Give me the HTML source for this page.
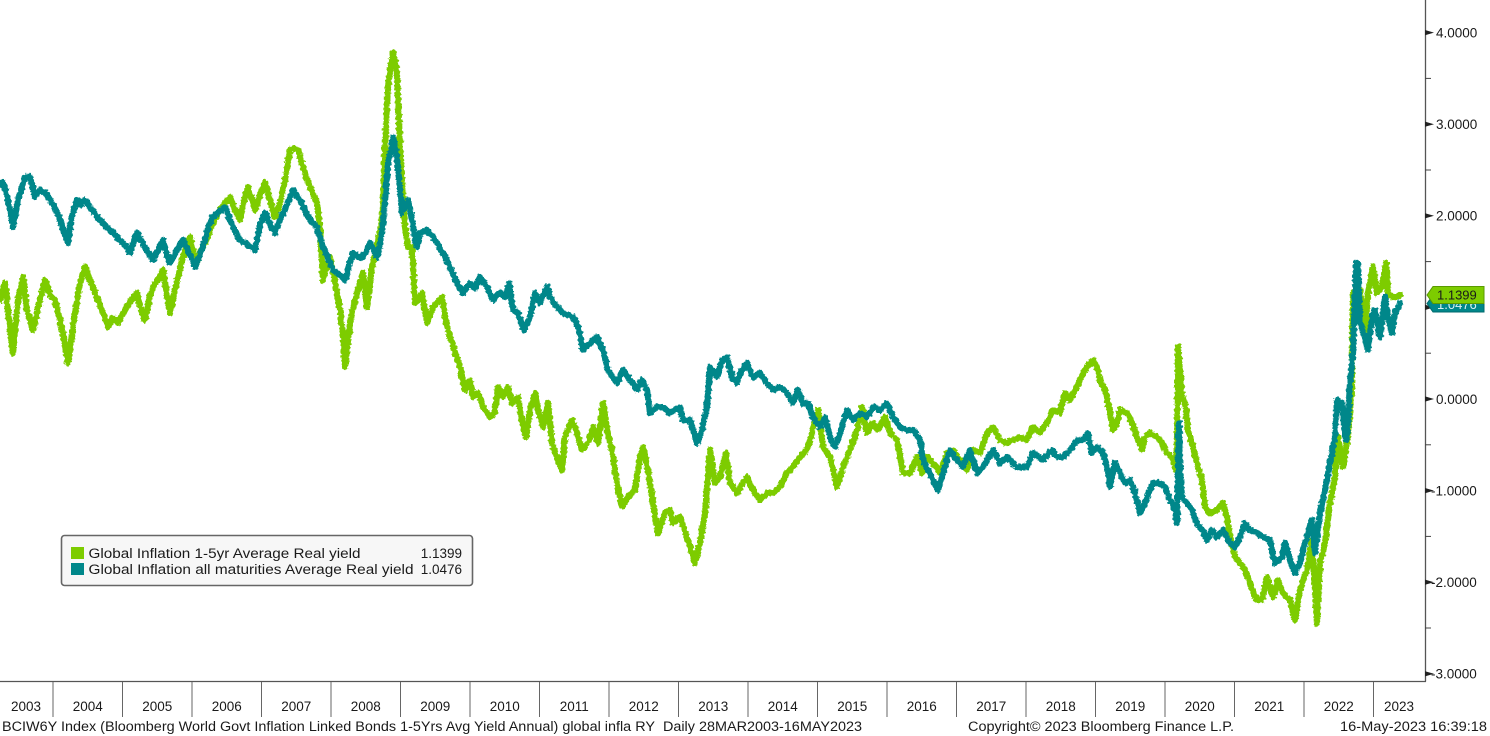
<!DOCTYPE html>
<html>
<head>
<meta charset="utf-8">
<style>
  html, body { margin: 0; padding: 0; background: #ffffff; }
  svg { display: block; }
  text { font-family: "Liberation Sans", "DejaVu Sans", sans-serif; fill: #1a1a1a; }
</style>
</head>
<body>
<svg width="1490" height="736" viewBox="0 0 1490 736" xmlns="http://www.w3.org/2000/svg">
  <defs>
    <filter id="jit" filterUnits="userSpaceOnUse" x="0" y="0" width="1425" height="681">
      <feTurbulence type="fractalNoise" baseFrequency="0.35" numOctaves="2" seed="7" result="n"/>
      <feDisplacementMap in="SourceGraphic" in2="n" scale="4" xChannelSelector="R" yChannelSelector="G"/>
    </filter>
  </defs>
  <rect x="0" y="0" width="1490" height="736" fill="#ffffff"/>

  <g filter="url(#jit)">
  <!-- Green series: 1-5yr -->
  <polyline fill="none" stroke="#7dcc00" stroke-width="6.2" stroke-linejoin="round" stroke-linecap="round" points="
0,300 5,283 9,320 13,353 18,300 23,277 27,310 33,330 40,300 45,280 50,295 55,300 60,320 64,340 68,363 74,320 80,283 85,267 90,280 95,293 102,310 108,327 113,318 118,323 125,310 131,300 137,293 141,310 145,320 149,300 153,287 158,280 163,270 167,295 170,313 176,285 183,257 187,245 190,237 194,255 197,263 201,250 205,243 212,225 220,210 225,203 230,197 235,210 240,220 244,200 248,187 252,200 255,210 260,195 265,182 270,200 275,217 280,203 285,180 290,150 294,148 298,150 304,170 310,187 317,203 320,227 323,280 327,265 330,257 334,275 337,293 340,310 343,333 345,367 350,323 354,305 357,293 363,273 367,307 372,267 376,250 380,233 383,207 386,123 388,87 390,70 393,53 395,60 397,73 399,120 400,150 403,200 405,227 408,247 412,247 415,303 419,300 422,293 427,323 433,307 438,302 442,297 447,327 452,343 456,355 460,367 465,390 470,380 473,397 478,393 483,407 490,417 495,413 498,387 503,397 508,387 512,403 518,397 522,420 526,437 530,410 535,393 538,410 543,427 548,403 552,443 557,457 562,470 565,437 572,420 577,433 582,450 588,443 593,427 598,443 603,403 607,430 612,450 617,483 622,507 628,497 635,490 640,457 643,447 648,470 653,503 658,533 665,513 670,510 673,523 680,517 687,537 695,563 700,543 705,513 710,450 715,483 720,477 726,453 730,483 737,493 743,483 747,477 753,490 760,500 767,493 773,493 780,487 787,473 793,467 800,457 807,450 812,433 818,410 823,447 830,457 837,487 843,467 850,450 857,430 862,407 867,433 873,423 878,430 885,417 890,433 897,440 903,473 910,473 917,457 922,473 927,457 933,463 940,473 947,453 953,450 960,460 967,470 973,450 980,453 987,433 993,427 1000,440 1007,443 1013,440 1020,437 1027,440 1033,427 1040,433 1047,423 1053,410 1060,413 1065,393 1070,400 1075,390 1080,380 1085,370 1090,363 1093,360 1097,367 1100,380 1105,390 1110,413 1113,430 1117,423 1120,410 1127,413 1132,423 1137,437 1142,450 1145,437 1150,433 1157,437 1162,443 1167,453 1172,457 1176,470 1177,440 1178,347 1180,370 1182,397 1185,403 1188,430 1193,447 1197,463 1202,480 1205,507 1210,513 1217,510 1223,503 1227,517 1230,537 1235,557 1240,563 1245,570 1250,583 1255,597 1258,600 1262,600 1267,577 1273,597 1278,580 1283,593 1290,600 1295,620 1300,590 1307,570 1312,540 1317,623 1320,563 1325,543 1330,503 1335,477 1338,437 1343,467 1348,437 1352,383 1353,293 1357,310 1360,290 1365,330 1368,293 1373,267 1377,293 1382,287 1386,263 1388,293 1392,297 1397,297 1400,295"/>

  <!-- Teal series: all maturities -->
  <polyline fill="none" stroke="#00878a" stroke-width="6.2" stroke-linejoin="round" stroke-linecap="round" points="
0,185 3,182 8,200 13,227 18,200 25,177 30,177 35,197 40,190 45,192 50,200 55,207 60,220 65,235 68,243 72,215 77,200 81,205 85,200 92,210 100,220 110,230 120,240 125,245 130,253 137,233 141,240 145,247 153,260 158,250 163,240 167,255 170,263 177,250 183,240 190,255 195,267 200,255 205,240 209,225 213,217 219,212 225,207 232,225 240,240 248,245 255,250 260,225 265,213 270,225 275,233 280,220 287,205 293,190 300,200 305,210 310,220 317,227 323,247 328,258 333,270 340,275 345,280 349,265 353,253 358,257 363,257 367,250 370,243 374,250 377,257 380,245 383,223 386,190 388,163 391,150 393,137 396,150 398,167 402,213 405,205 408,200 411,215 413,227 417,247 420,233 427,230 433,237 438,245 443,253 450,267 457,283 463,293 470,283 475,288 480,277 487,287 493,300 500,292 505,297 509,283 513,310 518,313 524,330 530,317 535,293 540,303 547,287 550,297 557,307 563,313 573,317 578,327 583,350 590,343 597,337 603,350 608,370 617,383 623,370 630,380 637,390 642,380 647,390 650,413 657,407 663,407 670,413 680,407 683,420 690,420 697,443 702,430 707,407 710,367 717,377 722,360 727,357 732,377 737,383 740,373 747,363 753,377 760,373 767,383 773,390 780,387 787,393 793,403 798,390 803,403 808,403 813,417 820,427 825,417 830,437 835,447 840,433 847,410 853,420 860,413 867,417 873,407 880,410 887,403 893,417 900,427 907,430 913,430 920,440 923,460 928,470 933,480 938,490 943,473 950,450 957,460 963,467 970,450 977,473 983,467 993,450 1000,463 1007,457 1017,467 1027,467 1033,453 1043,460 1052,450 1057,457 1063,457 1070,450 1077,440 1083,440 1088,433 1092,453 1097,447 1103,453 1108,470 1110,487 1115,463 1120,473 1125,483 1130,480 1135,493 1140,513 1145,503 1150,490 1153,483 1160,483 1165,487 1170,500 1175,510 1177,523 1179,423 1180,470 1182,497 1187,503 1192,510 1197,523 1202,530 1207,540 1212,530 1217,537 1223,530 1230,543 1235,547 1240,537 1245,523 1250,530 1257,533 1263,537 1270,540 1275,563 1282,557 1285,543 1290,560 1295,573 1300,563 1305,543 1312,520 1315,553 1320,513 1325,490 1330,463 1335,437 1337,400 1342,403 1345,437 1347,440 1350,383 1353,353 1356,263 1358,263 1360,323 1365,337 1368,350 1372,317 1375,310 1380,337 1385,297 1388,317 1392,333 1395,313 1400,303"/>
  </g>

  <!-- Plot frame -->
  <line x1="1425.5" y1="0" x2="1425.5" y2="681.5" stroke="#555" stroke-width="1.3"/>
  <line x1="0" y1="681.5" x2="1426" y2="681.5" stroke="#555" stroke-width="1.3"/>

  <!-- Right axis ticks -->
  <g fill="#222" stroke="none">
    <polygon points="1425,30 1434,32.6 1425,35.2"/>
    <polygon points="1425,121.6 1434,124.2 1425,126.8"/>
    <polygon points="1425,213.2 1434,215.8 1425,218.4"/>
    <polygon points="1425,304.8 1434,307.4 1425,310"/>
    <polygon points="1425,396.4 1434,399 1425,401.6"/>
    <polygon points="1425,488 1434,490.6 1425,493.2"/>
    <polygon points="1425,579.6 1434,582.2 1425,584.8"/>
    <polygon points="1425,671.2 1434,673.8 1425,676.4"/>
  </g>
  <g stroke="#444" stroke-width="1">
    <line x1="1425" y1="78.4" x2="1431" y2="78.4"/>
    <line x1="1425" y1="170" x2="1431" y2="170"/>
    <line x1="1425" y1="261.6" x2="1431" y2="261.6"/>
    <line x1="1425" y1="353.2" x2="1431" y2="353.2"/>
    <line x1="1425" y1="444.8" x2="1431" y2="444.8"/>
    <line x1="1425" y1="536.4" x2="1431" y2="536.4"/>
    <line x1="1425" y1="628" x2="1431" y2="628"/>
  </g>
  <g font-size="13.5">
    <text x="1436" y="37.5">4.0000</text>
    <text x="1436" y="129.1">3.0000</text>
    <text x="1436" y="220.7">2.0000</text>
    <text x="1436" y="403.9">0.0000</text>
    <text x="1431" y="495.5">-1.0000</text>
    <text x="1431" y="587.1">-2.0000</text>
    <text x="1431" y="678.7">-3.0000</text>
  </g>

  <!-- Last value tags -->
  <polygon points="1427,303.5 1433,295 1484,295 1484,312 1433,312" fill="#00878a" stroke="#006a6d" stroke-width="1"/>
  <text x="1437" y="309" font-size="13" style="fill:#d8f0f0">1.0476</text>
  <polygon points="1427,295 1433,286.5 1484,286.5 1484,303.5 1433,303.5" fill="#7dcc00" stroke="#5a9a00" stroke-width="1"/>
  <text x="1437" y="299.5" font-size="13">1.1399</text>

  <!-- X axis dividers -->
  <g stroke="#666" stroke-width="1">
    <line x1="53" y1="682" x2="53" y2="717"/>
    <line x1="122.5" y1="682" x2="122.5" y2="717"/>
    <line x1="192" y1="682" x2="192" y2="717"/>
    <line x1="261.5" y1="682" x2="261.5" y2="717"/>
    <line x1="331" y1="682" x2="331" y2="717"/>
    <line x1="400.5" y1="682" x2="400.5" y2="717"/>
    <line x1="470" y1="682" x2="470" y2="717"/>
    <line x1="539.5" y1="682" x2="539.5" y2="717"/>
    <line x1="609" y1="682" x2="609" y2="717"/>
    <line x1="678.5" y1="682" x2="678.5" y2="717"/>
    <line x1="748" y1="682" x2="748" y2="717"/>
    <line x1="817.5" y1="682" x2="817.5" y2="717"/>
    <line x1="887" y1="682" x2="887" y2="717"/>
    <line x1="956.5" y1="682" x2="956.5" y2="717"/>
    <line x1="1026" y1="682" x2="1026" y2="717"/>
    <line x1="1095.5" y1="682" x2="1095.5" y2="717"/>
    <line x1="1165" y1="682" x2="1165" y2="717"/>
    <line x1="1234.5" y1="682" x2="1234.5" y2="717"/>
    <line x1="1304" y1="682" x2="1304" y2="717"/>
    <line x1="1373.5" y1="682" x2="1373.5" y2="717"/>
  </g>
  <g font-size="13.5" text-anchor="middle">
    <text x="26" y="711">2003</text>
    <text x="87.8" y="711">2004</text>
    <text x="157.3" y="711">2005</text>
    <text x="226.8" y="711">2006</text>
    <text x="296.3" y="711">2007</text>
    <text x="365.8" y="711">2008</text>
    <text x="435.3" y="711">2009</text>
    <text x="504.8" y="711">2010</text>
    <text x="574.3" y="711">2011</text>
    <text x="643.8" y="711">2012</text>
    <text x="713.3" y="711">2013</text>
    <text x="782.8" y="711">2014</text>
    <text x="852.3" y="711">2015</text>
    <text x="921.8" y="711">2016</text>
    <text x="991.3" y="711">2017</text>
    <text x="1060.8" y="711">2018</text>
    <text x="1130.3" y="711">2019</text>
    <text x="1199.8" y="711">2020</text>
    <text x="1269.3" y="711">2021</text>
    <text x="1338.8" y="711">2022</text>
    <text x="1399" y="711">2023</text>
  </g>

  <!-- Footer -->
  <g font-size="13.5">
    <text x="2" y="731" textLength="860" lengthAdjust="spacingAndGlyphs">BCIW6Y Index (Bloomberg World Govt Inflation Linked Bonds 1-5Yrs Avg Yield Annual) global infla RY&#160;&#160;Daily 28MAR2003-16MAY2023</text>
    <text x="968" y="731" textLength="266" lengthAdjust="spacingAndGlyphs">Copyright© 2023 Bloomberg Finance L.P.</text>
    <text x="1340" y="731" textLength="147" lengthAdjust="spacingAndGlyphs">16-May-2023 16:39:18</text>
  </g>

  <!-- Legend -->
  <rect x="61.5" y="535.5" width="411" height="50" rx="3" ry="3" fill="#f7f7f7" stroke="#666" stroke-width="1.6"/>
  <rect x="71" y="547" width="13" height="12" fill="#7dcc00"/>
  <rect x="71" y="563" width="13" height="12" fill="#00878a"/>
  <g font-size="13.5">
    <text x="88.5" y="558" textLength="272" lengthAdjust="spacingAndGlyphs">Global Inflation 1-5yr Average Real yield</text>
    <text x="88.5" y="574" textLength="325" lengthAdjust="spacingAndGlyphs">Global Inflation all maturities Average Real yield</text>
    <text x="462" y="558" text-anchor="end">1.1399</text>
    <text x="462" y="574" text-anchor="end">1.0476</text>
  </g>
</svg>
</body>
</html>
